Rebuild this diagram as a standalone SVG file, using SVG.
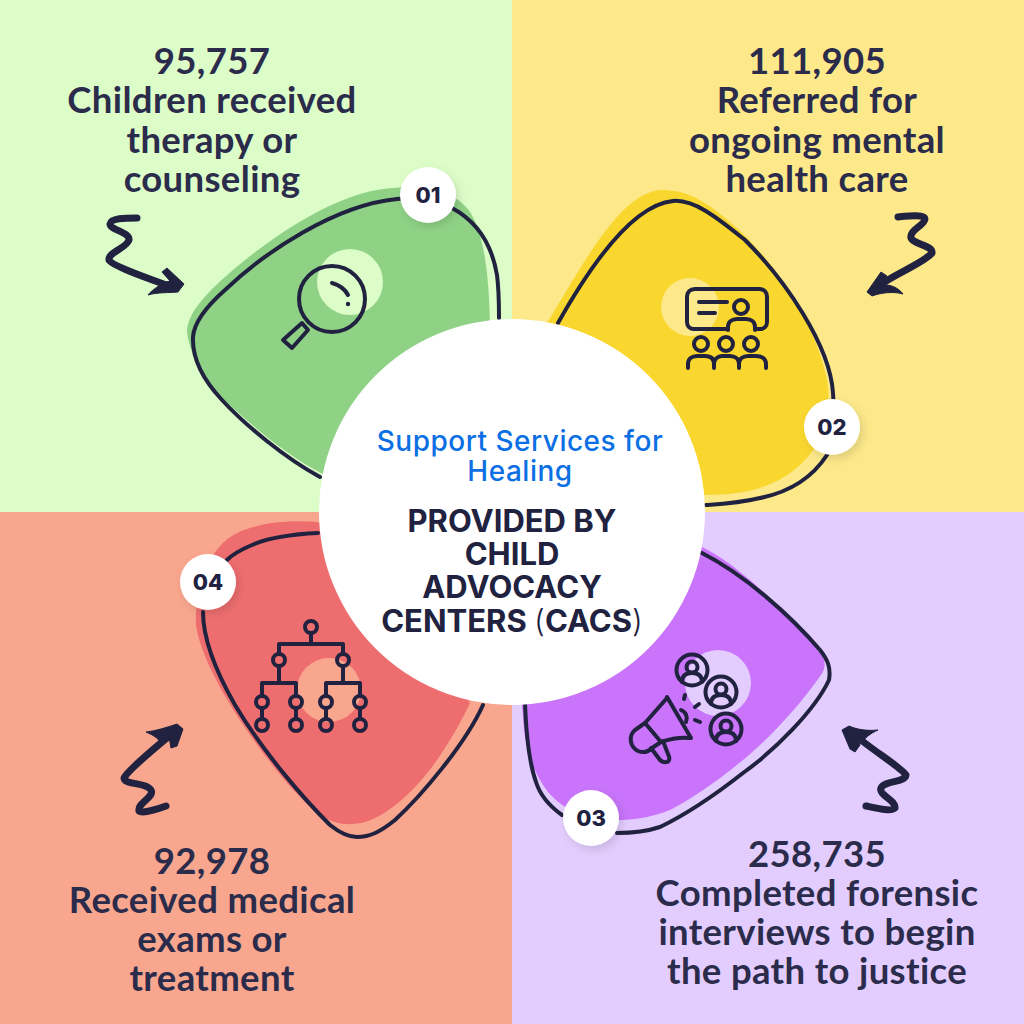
<svg xmlns="http://www.w3.org/2000/svg" width="1024" height="1024" viewBox="0 0 1024 1024">
<defs>
<filter id="sh" x="-30%" y="-30%" width="170%" height="170%"><feDropShadow dx="3" dy="4" stdDeviation="4" flood-color="#000" flood-opacity="0.12"/></filter>
</defs>
<style>
.lbl{font-family:"Lato","Liberation Sans",sans-serif;font-weight:700;font-size:36.5px;letter-spacing:.35px;fill:#2b2c4b;text-anchor:middle}
.ol{fill:none;stroke:#20223f;stroke-width:4;stroke-linecap:round}
.ic{fill:none;stroke:#20223f;stroke-width:4;stroke-linecap:round;stroke-linejoin:round}
.ar{fill:none;stroke:#20223f;stroke-width:7;stroke-linecap:round;stroke-linejoin:round}
.arh{fill:#20223f;stroke:#20223f;stroke-width:1;stroke-linejoin:round}
.bt{font-family:"Inter","Liberation Sans",sans-serif;font-weight:800;font-size:22px;fill:#20223f;text-anchor:middle}
.bc{fill:#fff;filter:url(#sh)}
.c1{font-family:"Inter","Liberation Sans",sans-serif;font-weight:500;font-size:28px;letter-spacing:.5px;fill:#0c6fe4;text-anchor:middle}
.c2{font-family:"Inter","Liberation Sans",sans-serif;font-weight:700;font-size:31px;fill:#20223f;text-anchor:middle}
.th{font-weight:300}
</style>
<rect x="0" y="0" width="512" height="512" fill="#dcfdc8"/>
<rect x="512" y="0" width="512" height="512" fill="#fde88a"/>
<rect x="0" y="512" width="512" height="512" fill="#f9a68e"/>
<rect x="512" y="512" width="512" height="512" fill="#e3cdfe"/>

<g id="node-01">
<path d="M187 330C189 312 205 295 225 277C270 237 340 190 393 188C425 186 455 190 470 212C483 232 489 270 490 325L492 480L323 474C285 455 248 422 222 398C205 380 188 352 187 330Z" fill="#8fd286"/>
<circle cx="350" cy="282" r="33" fill="#dcfdc8"/>
<path class="ol" d="M320 477C285 458 245 425 222 400C205 382 192 360 193 337C194 322 208 305 225 290C265 252 335 205 397 199C420 197 440 200 452 208C478 222 492 245 497 275C499 290 499 305 499 318"/>
<g class="ic"><circle cx="332" cy="299" r="33"/><path d="M332 283C339 285 345 289 348 295"/><path d="M302 323L283 340L292 348L308 330Z"/></g>
<circle cx="348" cy="304" r="2.2" fill="#20223f"/>
<circle class="bc" cx="428" cy="195" r="28"/><text class="bt" x="428" y="203">01</text>
</g>

<g id="node-02">
<path d="M547 323C580 270 620 190 663 190C690 190 710 205 730 222C770 255 815 320 827 380C832 410 825 440 805 460C780 487 745 495 707 495L620 495Z" fill="#f9d72f"/>
<circle cx="690" cy="307" r="29" fill="#fde88a"/>
<path class="ol" d="M558 323C585 275 630 205 673 201C695 199 720 220 745 240C785 280 830 345 833 393C835 420 832 440 827 455C812 478 790 492 760 498C740 503 722 504 706 505"/>
<g class="ic">
<path d="M728 329H694C690 329 687 326 687 322V297C687 292 690 289 695 289H759C764 289 767 292 767 297V322C767 326 764 329 760 329H757"/>
<path d="M699 302H727M699 313H715"/>
<circle cx="741" cy="307" r="7"/>
<path d="M728 330V327C728 322 732 319 737 319H746C751 319 755 322 755 327V330"/>
<circle cx="701" cy="344" r="7"/><circle cx="726" cy="344" r="7"/><circle cx="751" cy="344" r="7"/>
<path d="M688 368V364C688 359 692 356 697 356H705C711 356 714 359 714 364V368"/>
<path d="M714 364C714 359 718 356 722 356H730C735 356 739 359 739 364V368"/>
<path d="M739 364C739 359 743 356 748 356H756C762 356 766 359 766 364V368"/>
</g>
<circle class="bc" cx="832" cy="427" r="28"/><text class="bt" x="832" y="435">02</text>
</g>

<g id="node-03">
<path d="M702 547C740 565 790 615 820 653C826 660 826 668 821 675C800 705 770 738 743 760C715 783 690 800 670 810C650 818 630 821 608 820C590 820 565 812 548 792C535 775 527 755 524 730L520 680Z" fill="#c974fb"/>
<circle cx="718" cy="683" r="33" fill="#e3cdfe"/>
<path class="ol" d="M702 553C745 575 790 615 820 650C828 660 831 668 829 680C815 710 775 750 743 773C715 795 685 815 660 827C645 832 632 833 617 833M562 815C548 805 540 795 536 782C528 760 526 730 525 703"/>
<g class="ic">
<circle cx="692" cy="670" r="15.5"/><circle cx="692" cy="667" r="5.5"/><path d="M682 682C682 675 686 673 692 673C698 673 702 675 702 682"/>
<circle cx="721" cy="692" r="15.5"/><circle cx="721" cy="689" r="5.5"/><path d="M711 704C711 697 715 695 721 695C727 695 731 697 731 704"/>
<circle cx="726" cy="729" r="15.5"/><circle cx="726" cy="726" r="5.5"/><path d="M716 741C716 734 720 732 726 732C732 732 736 734 736 741"/>
<path d="M667 697L691 738"/>
<path d="M667 698L645 723M690 738C680 737 670 739 661 742"/>
<path d="M645 723L661 742"/>
<path d="M645 723L635 730C628 736 630 747 638 751C643 753 648 752 652 748L661 742"/>
<path d="M651 748L660 760C663 763 668 763 669 760C670 758 669 756 668 754L663 741"/>
<path d="M681 710C686 712 688 717 686 722"/>
<path d="M685 695L684 699M695 707L699 704M695 720L700 722"/>
</g>
<circle class="bc" cx="591" cy="818" r="28"/><text class="bt" x="591" y="826">03</text>
</g>

<g id="node-04">
<path d="M318 522C295 520 265 522 247 529C228 535 214 548 206 570C198 590 195 610 196 625C200 655 225 700 255 742C275 770 300 800 320 815C335 825 350 826 365 822C390 815 420 785 437 760C452 738 462 720 470 703L400 600Z" fill="#ee6e6f"/>
<circle cx="329" cy="690" r="32" fill="#f9a68e"/>
<path class="ol" d="M318 533C295 534 270 537 252 545C240 550 232 555 227 560M203 612C203 640 215 670 235 705C265 755 305 800 330 825C340 833 350 837 357 837C370 837 380 832 395 820C420 797 465 745 483 705"/>
<g class="ic">
<circle cx="311" cy="627" r="6"/>
<path d="M311 633V644M279 654V644H343V654"/>
<circle cx="279" cy="660" r="6"/><circle cx="343" cy="660" r="6"/>
<path d="M279 666V683M262 696V683H296V696"/>
<path d="M343 666V683M326 696V683H360V696"/>
<circle cx="262" cy="702" r="6"/><circle cx="296" cy="702" r="6"/><circle cx="326" cy="702" r="6"/><circle cx="360" cy="702" r="6"/>
<path d="M262 708V719M296 708V719M326 708V719M360 708V719"/>
<circle cx="262" cy="725" r="6"/><circle cx="296" cy="725" r="6"/><circle cx="326" cy="725" r="6"/><circle cx="360" cy="725" r="6"/>
</g>
<circle class="bc" cx="208" cy="582" r="28"/><text class="bt" x="208" y="590">04</text>
</g>

<g id="connectors">
<path class="ar" d="M137 218C125 218 111 218 110 224C110 230 130 232 129 240C127 248 108 252 109 260C112 266 150 279 172 287"/>
<path class="arh" d="M184 284L167 268L162 272L170 281L163 283C157 287 151 291 148 295C158 292 170 293 178 292Z"/>
<path class="ar" d="M898 217C908 216 925 214 925 219C925 225 909 230 911 238C914 245 933 245 932 253C925 262 895 274 880 285"/>
<path class="arh" d="M867 292L881 272L887 276L879 286L887 285C895 286 900 290 903 294C893 291 880 293 872 296Z"/>
<path class="ar" d="M866 806C876 808 892 812 895 808C896 800 878 795 881 788C885 780 905 783 906 775C902 768 872 750 855 735"/>
<path class="arh" d="M842 730L849 726C858 730 868 731 878 730C871 733 866 737 863 741L858 738L860 745L855 752L850 749Z"/>
<path class="ar" d="M166 806C158 809 142 814 139 811C137 803 155 797 151 790C146 782 124 785 124 778C128 770 155 748 168 737"/>
<path class="arh" d="M183 729L177 724C168 727 156 731 146 732C153 735 158 738 160 742L167 737L169 737L171 748L177 746Z"/>
</g>

<circle id="center-disc" cx="512" cy="512" r="193" fill="#fff"/>
<g id="center-text">
<text class="c1"><tspan x="520" y="451">Support Services for</tspan><tspan x="520" y="481">Healing</tspan></text>
<text class="c2"><tspan x="512" y="532">PROVIDED BY</tspan><tspan x="512" y="565">CHILD</tspan><tspan x="512" y="598">ADVOCACY</tspan><tspan x="512" y="632">CENTERS <tspan class="th">(</tspan>CACS<tspan class="th">)</tspan></tspan></text>
</g>

<g id="labels">
<text class="lbl"><tspan x="212" y="74">95,757</tspan><tspan x="212" y="113">Children received</tspan><tspan x="212" y="153">therapy or</tspan><tspan x="212" y="192">counseling</tspan></text>
<text class="lbl"><tspan x="817" y="74">111,905</tspan><tspan x="817" y="113">Referred for</tspan><tspan x="817" y="153">ongoing mental</tspan><tspan x="817" y="192">health care</tspan></text>
<text class="lbl"><tspan x="817" y="867">258,735</tspan><tspan x="817" y="906">Completed forensic</tspan><tspan x="817" y="945">interviews to begin</tspan><tspan x="817" y="984">the path to justice</tspan></text>
<text class="lbl"><tspan x="212" y="874">92,978</tspan><tspan x="212" y="913">Received medical</tspan><tspan x="212" y="952">exams or</tspan><tspan x="212" y="991">treatment</tspan></text>
</g>
</svg>
